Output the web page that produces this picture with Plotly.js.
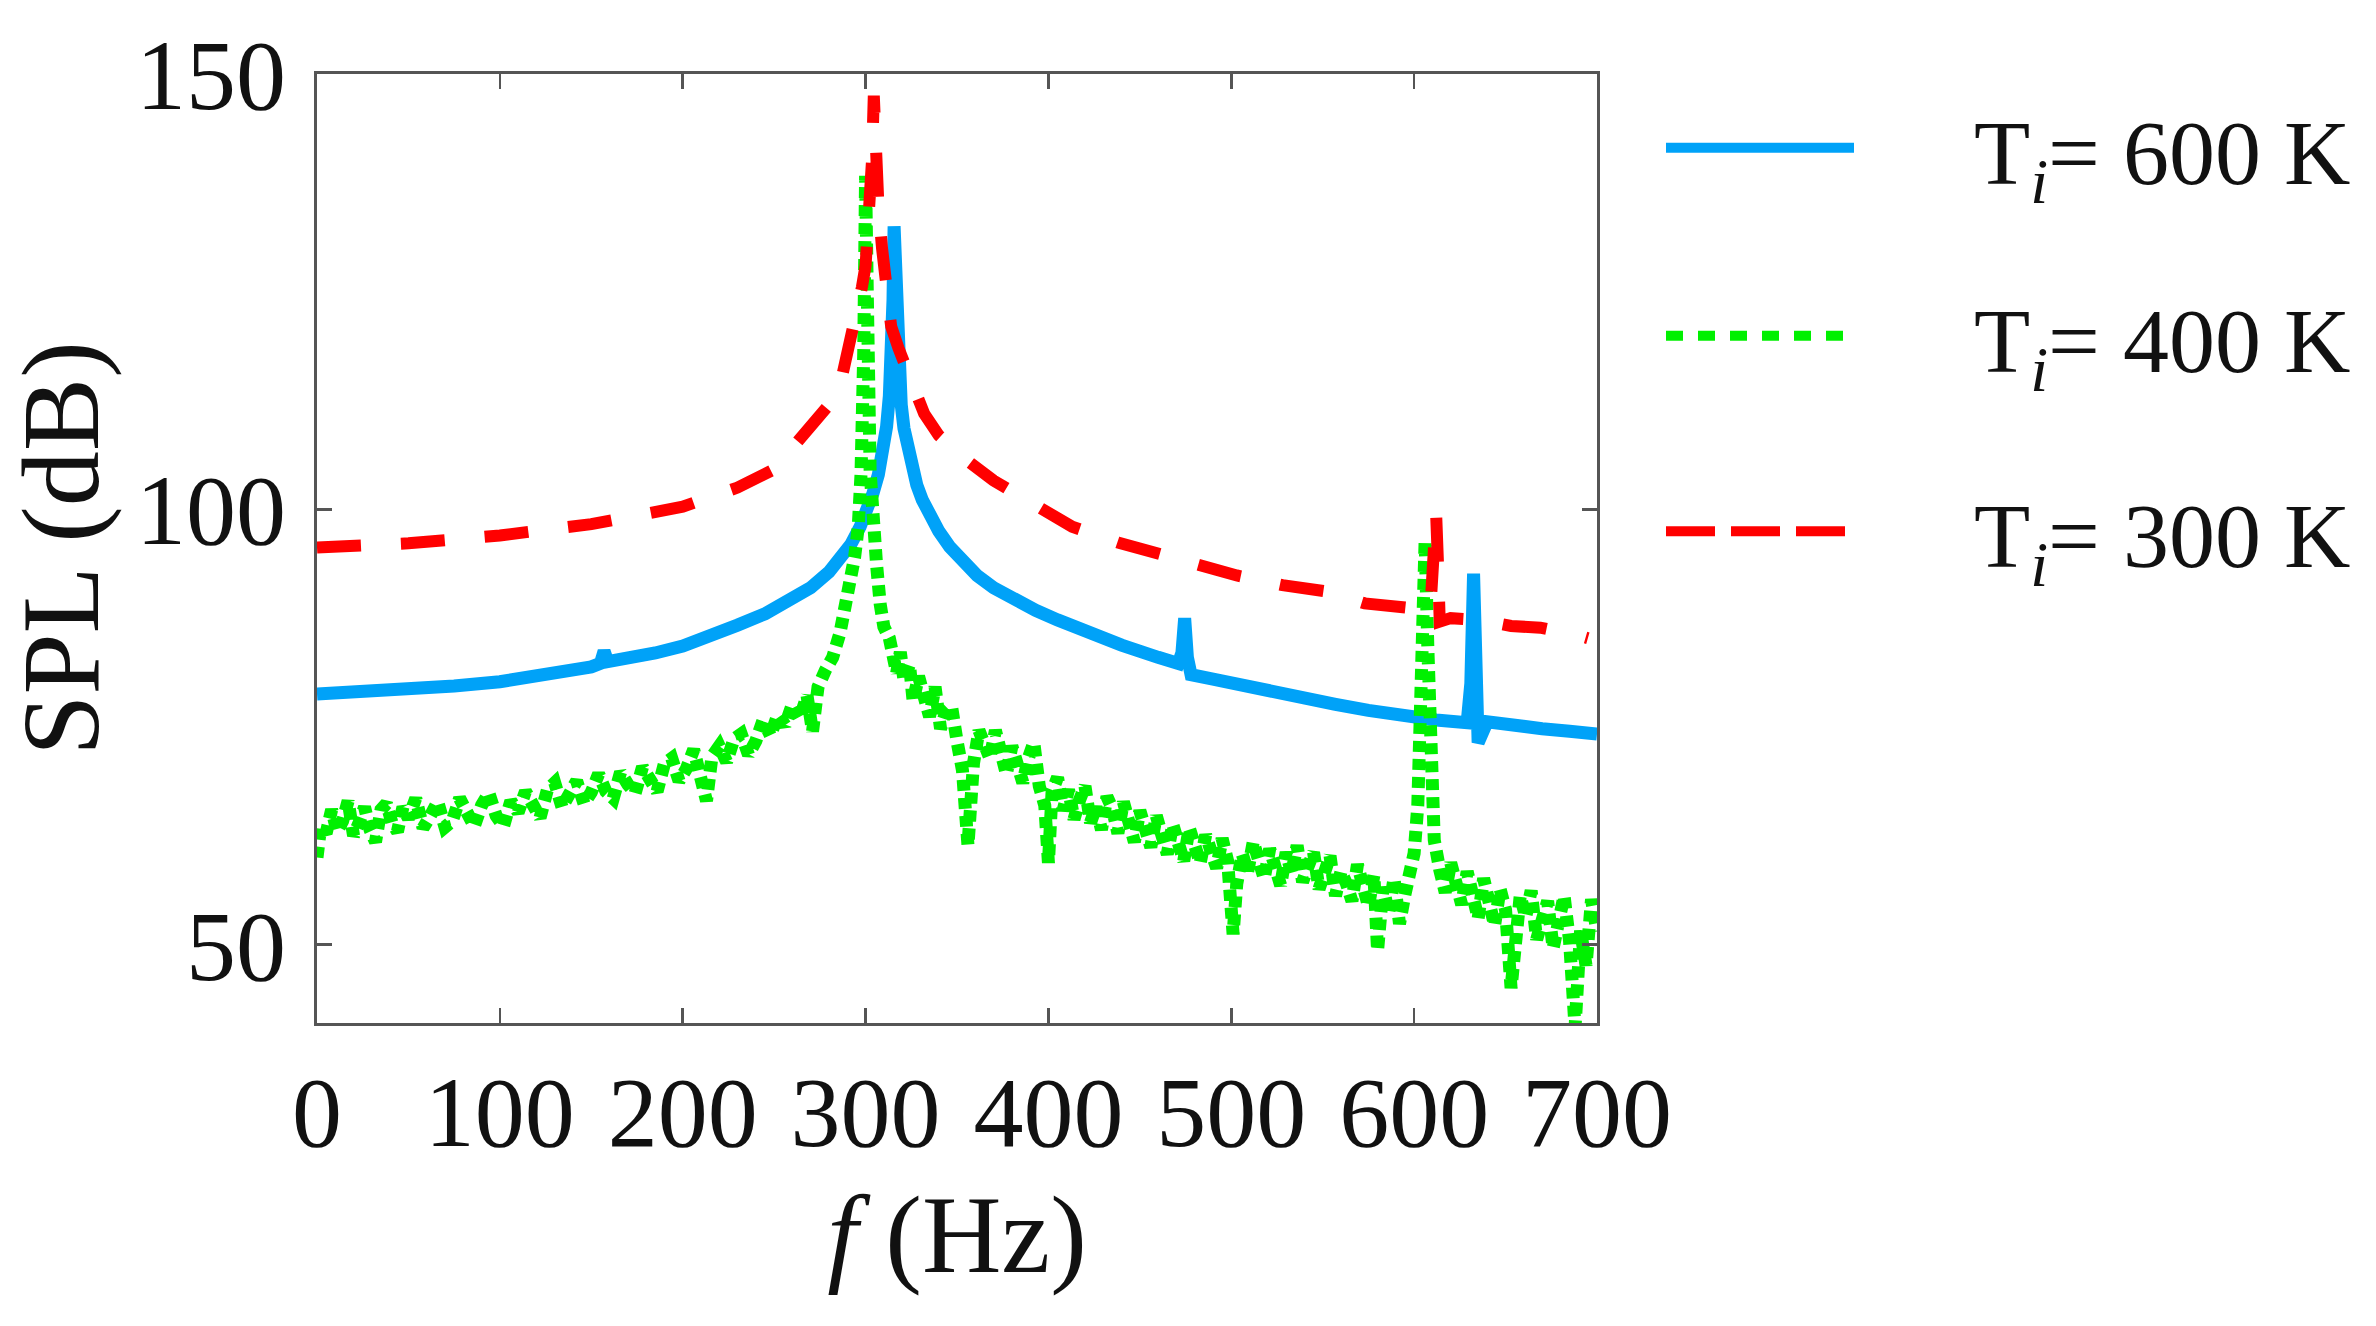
<!DOCTYPE html>
<html>
<head>
<meta charset="utf-8">
<script src="https://cdn.plot.ly/plotly-3.0.1.min.js"></script>
<style>
  html, body { margin: 0; padding: 0; background: #fff; }
  #spl-plot { width: 2376px; height: 1326px; }
</style>
</head>
<body>
<div id="spl-plot"></div>
<script>
// SPL spectra for three inlet temperatures.

const FREQ_600 = [0, 25, 50, 75, 100, 125, 150, 155, 157, 159, 170, 185, 200, 215, 230, 245, 260, 270, 280, 286,
  292, 297, 301, 304, 307, 309.5, 311.5, 313, 314.3, 315, 315.6, 316.2, 317, 318, 319.5, 321, 323, 325.5, 328, 331,
  335, 340, 346, 353, 361, 370, 381, 393, 405, 420, 440, 460, 471, 473, 474.5, 476, 478, 490, 505, 518,
  535, 557, 575, 596, 612, 629, 631, 632.5, 634, 635, 640, 655, 670, 685, 700];
const SPL_600 = [78.8, 79.0, 79.3, 79.7, 80.2, 80.9, 81.9, 82.3, 83.7, 82.5, 82.8, 83.5, 84.3, 85.4, 86.7, 88.0, 89.7, 91.0, 92.8, 94.2,
  96.0, 98.0, 100.0, 101.8, 104.0, 106.5, 109.5, 113, 118, 124, 132.5, 128, 121, 116, 112, 109.3, 106.8, 104.6, 102.8, 101.1,
  99.3, 97.5, 95.7, 94.0, 92.4, 91.0, 89.6, 88.4, 87.3, 86.0, 84.4, 83.0, 82.3, 83.5, 87.5, 83, 81, 80.5, 79.8, 79.1,
  78.4, 77.6, 76.9, 76.2, 75.8, 75.5, 80, 92.6, 80, 73.2, 75.6, 75.1, 74.8, 74.5, 74.2];

const FREQ_400 = [0, 2, 5, 8, 11, 14, 17, 20, 23, 26, 29, 32, 35, 38, 41, 44, 47, 50, 54, 58,
  62, 66, 70, 74, 78, 82, 86, 90, 94, 98, 102, 106, 110, 114, 118, 122, 126, 130, 134, 138,
  142, 146, 150, 154, 158, 162, 166, 170, 174, 178, 182, 186, 190, 194, 198, 202, 206, 210, 213, 216,
  220, 224, 228, 232, 236, 240, 244, 248, 252, 256, 260, 264, 268, 271, 274, 278, 282, 286, 289, 291.5,
  294, 296, 297.5, 299, 300, 301, 302.5, 304, 306, 308, 310, 313, 315, 317, 319, 321, 324, 326, 329, 332,
  335, 338, 341, 344, 347, 350, 353, 356, 359, 362, 365, 368, 371, 374, 377, 380, 383, 386, 389, 392,
  395, 398, 400, 402, 405, 408, 411, 414, 417, 420, 423, 426, 429, 432, 435, 438, 441, 444, 447, 450,
  453, 456, 459, 462, 465, 468, 471, 474, 477, 480, 483, 486, 489, 492, 495, 498, 501, 503, 506, 509,
  512, 515, 518, 521, 524, 527, 530, 533, 536, 539, 542, 545, 548, 551, 554, 557, 560, 563, 566, 569,
  572, 575, 578, 580, 583, 586, 589, 592, 595, 598, 600, 602, 604, 606, 607.5, 609, 611, 614, 617, 620,
  623, 626, 629, 632, 635, 638, 641, 644, 647, 650, 653, 655, 658, 661, 664, 667, 670, 673, 676, 679,
  682, 685, 688, 691, 694, 697, 700];
const SPL_400 = [60, 63.5, 62.8, 65.5, 63, 64.2, 66.5, 62.5, 64, 65.8, 63.2, 61.8, 65.5, 66.2, 64, 63, 65.8, 64.5, 66.8, 63.4,
  64.8, 66.4, 63.5, 64.2, 66.8, 65.2, 63.6, 66, 67.4, 64.8, 63.6, 66.5, 65.2, 67.6, 66, 64.6, 67.8, 68.6, 65.8, 67.2,
  68.8, 66.2, 67.5, 69.6, 67.6, 66.8, 69.8, 68.4, 67.4, 70.4, 69, 67.6, 70.8, 71.4, 68.8, 70.2, 72.4, 69.6, 66.5, 71.6,
  72.8, 71, 73.6, 74.2, 71.8, 73.4, 75.8, 74, 76.4, 75.2, 77.6, 76, 78.6, 74.5, 79.6, 81.5, 83, 85.8, 88.5, 91,
  94.5, 98, 104, 118, 138.3, 124, 104.3, 97.7, 93.7, 89.1, 86.5, 85.2, 83.5, 81.2, 83.6, 80.4, 82.2, 78, 80.8, 78.6,
  76.2, 79.6, 74.8, 76.8, 77.4, 73.4, 70, 61.4, 70.8, 74.6, 73, 71.4, 74.6, 72.4, 69.6, 72.8, 70.8, 68.6, 71.4, 73.2,
  68.2, 66, 59.4, 67.6, 69.2, 65.4, 67.8, 64.4, 66.6, 68.2, 64, 65.8, 63.2, 67, 65.6, 62.8, 66.4, 64, 61.8, 65.4,
  63.6, 61.2, 64.8, 62.4, 60.4, 63.8, 62, 59.6, 63.4, 61, 59.4, 62.6, 60.2, 58.8, 62.2, 59.6, 51.2, 57, 60.4, 58.4,
  61.8, 59.6, 57.6, 61, 58.8, 56.8, 60.6, 58.2, 61.4, 57.2, 59, 60.6, 56.4, 58, 60.2, 55.6, 58.4, 57, 55, 59.2,
  56.6, 54.4, 58, 49.3, 56.6, 53.6, 57.6, 52.4, 55.8, 58.5, 60.5, 66, 80, 96.4, 84, 70, 62, 58.6, 56, 59.4,
  57, 54.6, 58.4, 55.8, 53, 57.6, 54.8, 52.2, 56.4, 54, 45, 51.4, 55.6, 53.2, 56.2, 50.6, 52.8, 55, 49.6, 53.4,
  55.6, 50.4, 40.5, 51.6, 47.6, 55.2, 51.5];

const FREQ_300 = [0, 20, 50, 100, 150, 200, 230, 250, 266, 280, 286, 291, 295, 298, 300, 302, 303.5, 304.5, 305.5, 307,
  309, 311, 314, 318, 322, 326, 332, 340, 353, 370, 394, 413, 438, 458, 485, 503, 528, 551, 573, 590,
  605, 609, 611, 612, 613, 614, 620, 636, 653, 669, 690, 695];
const SPL_300 = [95.6, 95.8, 96.1, 97, 98.3, 100.3, 102.5, 104.6, 108.5, 112, 114.2, 118.5, 122, 125.5, 128, 133, 140, 147.5, 141, 135,
  130, 125, 121, 118.5, 116.5, 114.5, 111, 108.5, 106, 103.3, 100.3, 98, 96.2, 95, 93.5, 92.4, 91.3, 90.6, 89.2, 88.7,
  88.5, 89, 94, 99.6, 94, 87.1, 87.5, 87.3, 86.6, 86.4, 85.5, 85.2];

const SERIES = [
  { name: 'T<sub><i>i</i></sub>= 600 K', x: FREQ_600, y: SPL_600, color: '#00a2f8',
    plot: { width: 13, dash: 'solid' }, key: { width: 17, dash: 'solid' }, legend: 'legend' },
  { name: 'T<sub><i>i</i></sub>= 400 K', x: FREQ_400, y: SPL_400, color: '#00f000',
    plot: { width: 13, dash: '11px,7px' }, key: { width: 17, dash: '17px,15px' }, legend: 'legend2' },
  { name: 'T<sub><i>i</i></sub>= 300 K', x: FREQ_300, y: SPL_300, color: '#ff0000',
    plot: { width: 12, dash: '44px,40px' }, key: { width: 17, dash: '49px,16px' }, legend: 'legend3' }
];

const X_TICKS = [0, 100, 200, 300, 400, 500, 600, 700];
const Y_TICKS = [50, 100, 150];

const SERIF = 'Liberation Serif, Times New Roman, serif';
const FRAME = '#555555';
const PAD = '\u00a0\u00a0\u00a0\u00a0\u00a0';

function buildTraces() {
  const traces = [];
  // curves themselves
  SERIES.forEach(s => traces.push({
    type: 'scatter', mode: 'lines', x: s.x, y: s.y,
    line: { color: s.color, width: s.plot.width, dash: s.plot.dash },
    showlegend: false, hoverinfo: 'skip'
  }));
  // legend keys use the longer MATLAB-style line samples
  SERIES.forEach(s => traces.push({
    type: 'scatter', mode: 'lines', x: [null], y: [null],
    name: PAD + s.name, legend: s.legend,
    line: { color: s.color, width: s.key.width, dash: s.key.dash },
    showlegend: true, hoverinfo: 'skip'
  }));
  return traces;
}

function legendBox(y) {
  return {
    x: 1.05, xanchor: 'left', y: y, yanchor: 'middle',
    bgcolor: 'rgba(0,0,0,0)', borderwidth: 0, itemwidth: 188,
    font: { family: SERIF, size: 92, color: '#111' }
  };
}

const axisBase = {
  showline: true, linecolor: FRAME, linewidth: 3, mirror: 'ticks',
  ticks: 'inside', ticklen: 15, tickwidth: 2.5, tickcolor: FRAME,
  showgrid: false, zeroline: false,
  tickfont: { family: SERIF, size: 100, color: '#111' }
};

const layout = {
  width: 2376, height: 1326, autosize: false,
  paper_bgcolor: '#fff', plot_bgcolor: '#fff',
  margin: { l: 317, r: 779, t: 74, b: 303 },
  xaxis: Object.assign({}, axisBase, {
    range: [0, 700], tickvals: X_TICKS, ticklabelstandoff: 0,
    title: { text: '<i>f</i> (Hz)', font: { family: SERIF, size: 110, color: '#111' }, standoff: 28 }
  }),
  yaxis: Object.assign({}, axisBase, {
    range: [41, 150], tickvals: Y_TICKS, ticklabelstandoff: 8,
    title: { text: 'SPL (dB)', font: { family: SERIF, size: 110, color: '#111' }, standoff: 40 }
  }),
  showlegend: true,
  legend: legendBox(0.922),
  legend2: legendBox(0.724),
  legend3: legendBox(0.518)
};

Plotly.newPlot('spl-plot', buildTraces(), layout, { displayModeBar: false, staticPlot: true });
</script>
</body>
</html>
